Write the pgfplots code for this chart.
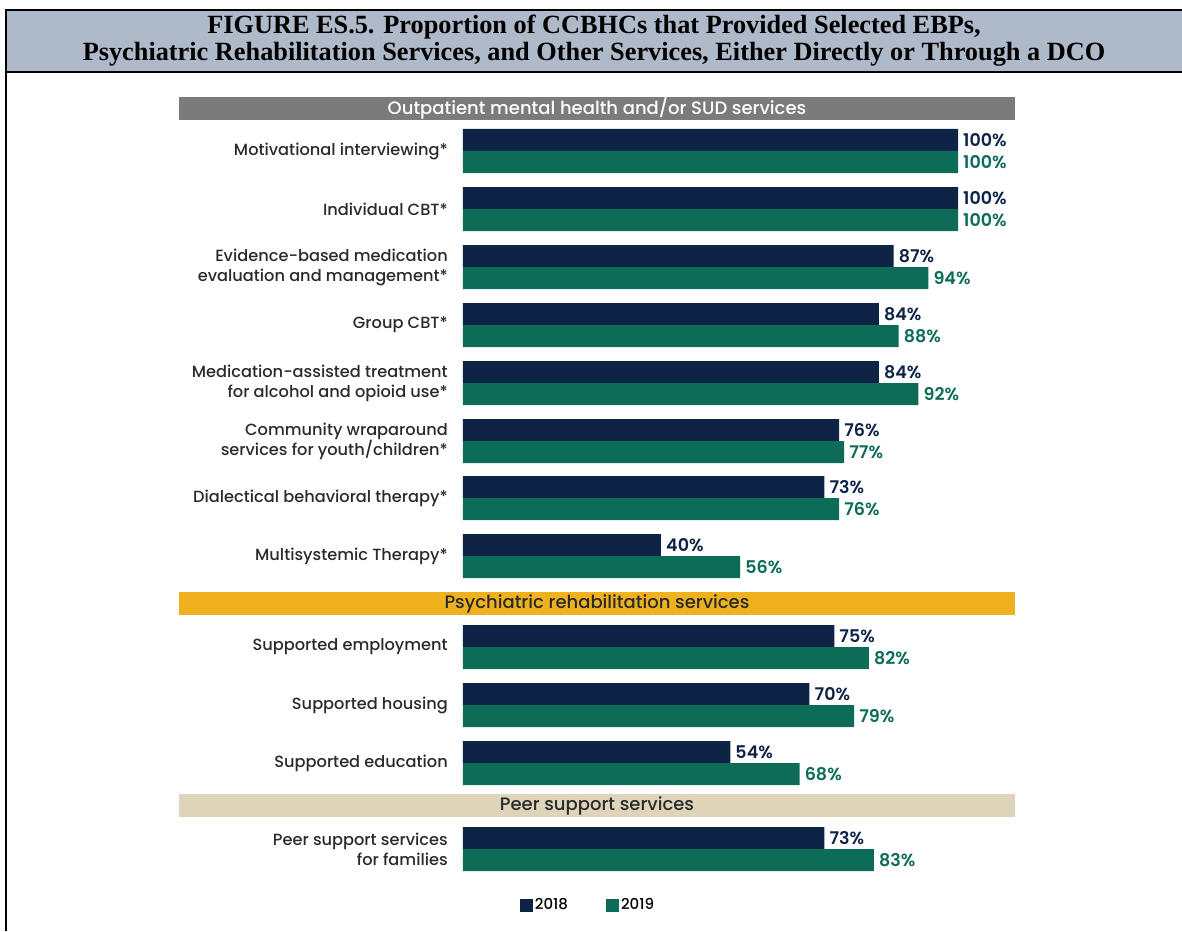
\documentclass[border=0pt]{standalone}
\usepackage{pgfplots}
\pgfplotsset{compat=1.18}
\usepackage{fontspec}
\setmainfont{Poppins}[UprightFont={* Medium}, BoldFont={* SemiBold}]
\newfontfamily\titlefont{Liberation Serif}
\definecolor{navy}{HTML}{0D2447}
\definecolor{teal19}{HTML}{0C6C58}
\definecolor{bandgray}{HTML}{7B7B7B}
\definecolor{bandyellow}{HTML}{EFB21E}
\definecolor{bandbeige}{HTML}{DDD4BA}
\definecolor{titlebg}{HTML}{AEB9CA}
\definecolor{labtext}{HTML}{2A2A2A}
\begin{document}
\begin{tikzpicture}
\begin{axis}[
  scale only axis,
  width=495pt, height=742pt,
  xmin=0, xmax=100,
  ymin=129, ymax=871,
  y dir=reverse,
  xbar, bar width=22,
  axis line style={draw=none},
  xtick=\empty,
  ytick={151,209,267,325,383,441,498,556,647,705,763,849},
  yticklabels={
    Motivational interviewing*,
    Individual CBT*,
    {Evidence-based medication\\evaluation and management*},
    Group CBT*,
    {Medication-assisted treatment\\for alcohol and opioid use*},
    {Community wraparound\\services for youth/children*},
    Dialectical behavioral therapy*,
    Multisystemic Therapy*,
    Supported employment,
    Supported housing,
    Supported education,
    {Peer support services\\for families}},
  yticklabel style={font=\fontsize{16.2}{20}\selectfont, align=right, text=labtext, inner sep=0pt, xshift=-15pt},
  major tick length=0pt,
  clip=false,
  /pgf/number format/assume math mode=true,
  nodes near coords={\pgfmathprintnumber{\pgfplotspointmeta}\%},
  point meta=x,
  every node near coord/.append style={anchor=west, inner sep=0pt, xshift=5pt, font=\bfseries\fontsize{17.5}{17.5}\selectfont},
  legend style={at={(0.2525,-0.0458)}, anchor=center, draw=none, fill=none,
    legend columns=2, font=\fontsize{15}{15}\selectfont,
    /tikz/every even column/.append style={column sep=36pt}},
  legend image code/.code={\fill[#1] (0pt,-6.5pt) rectangle (13pt,6.5pt);},
]
\addplot[fill=navy, draw=none, bar shift=-11, every node near coord/.append style={text=navy}] coordinates {
  (100,151) (100,209) (87,267) (84,325) (84,383) (76,441) (73,498) (40,556)
  (75,647) (70,705) (54,763) (73,849)};
\addplot[fill=teal19, draw=none, bar shift=11, every node near coord/.append style={text=teal19}] coordinates {
  (100,151) (100,209) (94,267) (88,325) (92,383) (77,441) (76,498) (56,556)
  (82,647) (79,705) (68,763) (83,849)};
\legend{2018, 2019}
% section bands
\fill[bandgray] (axis cs:{(179-463)/4.95},97) rectangle (axis cs:{(1015-463)/4.95},120);
\node[text=white, font=\fontsize{18}{18}\selectfont] at (axis cs:{(597-463)/4.95},108.5) {Outpatient mental health and/or SUD services};
\fill[bandyellow] (axis cs:{(179-463)/4.95},592) rectangle (axis cs:{(1015-463)/4.95},615);
\node[text=labtext, font=\fontsize{18}{18}\selectfont] at (axis cs:{(597-463)/4.95},603.5) {Psychiatric rehabilitation services};
\fill[bandbeige] (axis cs:{(179-463)/4.95},794) rectangle (axis cs:{(1015-463)/4.95},817);
\node[text=labtext, font=\fontsize{18}{18}\selectfont] at (axis cs:{(597-463)/4.95},805.5) {Peer support services};
% title box and frame
\fill[titlebg] (axis cs:{(6-463)/4.95},10) rectangle (axis cs:{(1182-463)/4.95},72);
\draw[line width=2pt] (axis cs:{(6-463)/4.95},10) -- (axis cs:{(1182-463)/4.95},10);
\draw[line width=2pt] (axis cs:{(6-463)/4.95},72) -- (axis cs:{(1182-463)/4.95},72);
\draw[line width=2pt] (axis cs:{(6-463)/4.95},9) -- (axis cs:{(6-463)/4.95},931);
\node[font=\titlefont\bfseries\fontsize{26.3}{26.5}\selectfont, align=center] at (axis cs:{(594-463)/4.95},40.5)
  {FIGURE ES.5. Proportion of CCBHCs that Provided Selected EBPs,\\Psychiatric Rehabilitation Services, and Other Services, Either Directly or Through a DCO};
\coordinate (BL) at (axis cs:{(0-463)/4.95},931);
\coordinate (TR) at (axis cs:{(1182-463)/4.95},0);
\end{axis}
\pgfresetboundingbox
\path[use as bounding box] (BL) rectangle (TR);
\end{tikzpicture}
\end{document}
